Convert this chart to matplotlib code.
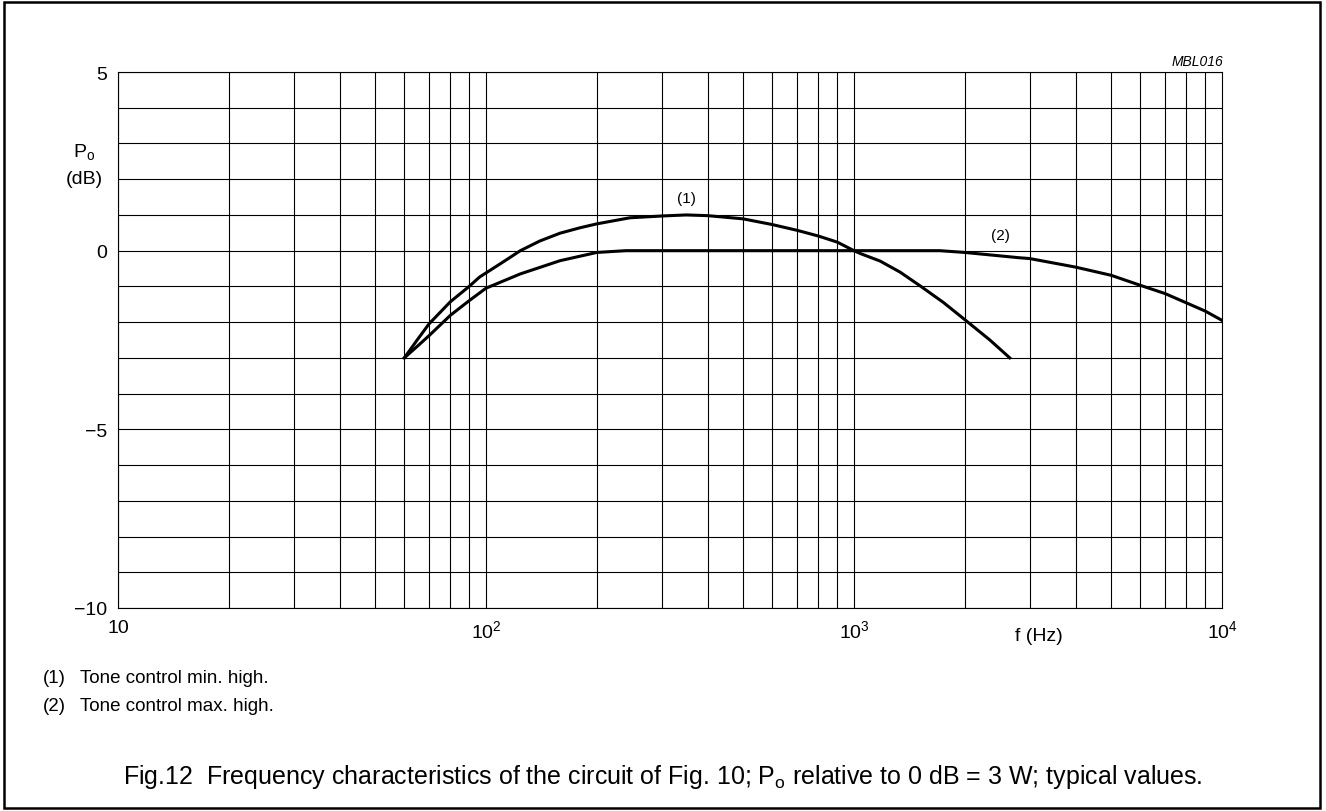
import numpy as np
import matplotlib
matplotlib.use('Agg')
import matplotlib.pyplot as plt
from matplotlib.patches import Rectangle

plt.rcParams['font.family'] = ['Liberation Sans', 'DejaVu Sans']
plt.rcParams['mathtext.fontset'] = 'custom'
plt.rcParams['mathtext.rm'] = 'Liberation Sans'
plt.rcParams['mathtext.it'] = 'Liberation Sans:italic'

# curve (1): tone control min. high
f1 = [60, 65, 70, 80, 90, 96, 110, 124, 140, 159, 180, 200, 246, 300, 350, 400, 500,
      600, 700, 800, 900, 1000, 1040, 1177, 1334, 1510, 1750, 2000, 2340, 2650]
p1 = [-3.0, -2.5, -2.05, -1.43, -1.0, -0.74, -0.35, 0.0, 0.27, 0.49, 0.64, 0.75, 0.92,
      0.97, 1.0, 0.98, 0.89, 0.73, 0.57, 0.41, 0.24, 0.0, -0.08, -0.29, -0.6, -0.98,
      -1.45, -1.93, -2.5, -3.0]

# curve (2): tone control max. high
f2 = [60, 65, 70, 80, 90, 100, 124, 159, 200, 240, 500, 1000, 1710, 2000, 2825, 3000,
      4000, 5000, 6000, 7000, 8000, 9000, 10000]
p2 = [-3.0, -2.68, -2.38, -1.81, -1.4, -1.05, -0.65, -0.28, -0.05, 0.0, 0.0, 0.0, 0.0,
      -0.05, -0.2, -0.22, -0.46, -0.69, -0.97, -1.2, -1.46, -1.69, -1.95]

yticks = [5, 0, -5, -10]
ytick_labels = ['5', '0', '\u22125', '\u221210']
xticks = [10, 100, 1000, 10000]
xtick_labels = ['10', r'10$^{2}$', r'10$^{3}$', r'10$^{4}$']

fig = plt.figure(figsize=(13.26, 8.12), dpi=100)
ax = fig.add_axes([118 / 1326, 1 - 609 / 812, (1222 - 118) / 1326, (609 - 73) / 812])

ax.set_xscale('log')
ax.set_xlim(10, 10000)
ax.set_ylim(-10, 5)

# grid
for dec in [10, 100, 1000]:
    for m in range(1, 10):
        ax.axvline(dec * m, color='black', lw=0.8, zorder=1)
for y in range(-10, 6):
    ax.axhline(y, color='black', lw=0.8, zorder=1)

ax.plot(f1, p1, color='black', lw=2.2, zorder=3, solid_joinstyle='round')
ax.plot(f2, p2, color='black', lw=2.2, zorder=3, solid_joinstyle='round')

ax.set_xticks(xticks)
ax.set_xticklabels(xtick_labels, fontsize=14)
ax.xaxis.set_minor_locator(matplotlib.ticker.NullLocator())
ax.set_yticks(yticks)
ax.set_yticklabels(ytick_labels, fontsize=14)
ax.tick_params(axis='x', length=0, pad=8)
ax.tick_params(axis='y', length=0, pad=8)
for s in ax.spines.values():
    s.set_linewidth(0.8)

fig.text(686 / 1326, 1 - 199 / 812, '(1)', fontsize=11, ha='center', va='center')
fig.text(1000 / 1326, 1 - 236 / 812, '(2)', fontsize=11, ha='center', va='center')

fig.text(1223 / 1326, 1 - 62 / 812, 'MBL016', fontsize=10, style='italic', ha='right', va='center')
fig.text(84 / 1326, 1 - 152 / 812, r'P$_{\mathrm{o}}$', fontsize=14, ha='center', va='center')
fig.text(84 / 1326, 1 - 180 / 812, '(dB)', fontsize=14, ha='center', va='center')
fig.text(1039 / 1326, 1 - 637 / 812, 'f (Hz)', fontsize=14, ha='center', va='center')

fig.text(43 / 1326, 1 - 679 / 812, '(1)', fontsize=13.5, ha='left', va='center')
fig.text(80 / 1326, 1 - 679 / 812, 'Tone control min. high.', fontsize=13.5, ha='left', va='center')
fig.text(43 / 1326, 1 - 707 / 812, '(2)', fontsize=13.5, ha='left', va='center')
fig.text(80 / 1326, 1 - 707 / 812, 'Tone control max. high.', fontsize=13.5, ha='left', va='center')

fig.text(123 / 1326, 1 - 777 / 812,
         r'Fig.12  Frequency characteristics of the circuit of Fig. 10; P$_{\mathrm{o}}$ relative to 0 dB = 3 W; typical values.',
         fontsize=18, ha='left', va='center')

fig.patches.append(Rectangle((4 / 1326, 3 / 812), 1316 / 1326, 806 / 812, transform=fig.transFigure,
                             fill=False, edgecolor='black', lw=1.8))

fig.savefig('out.png', dpi=100)
